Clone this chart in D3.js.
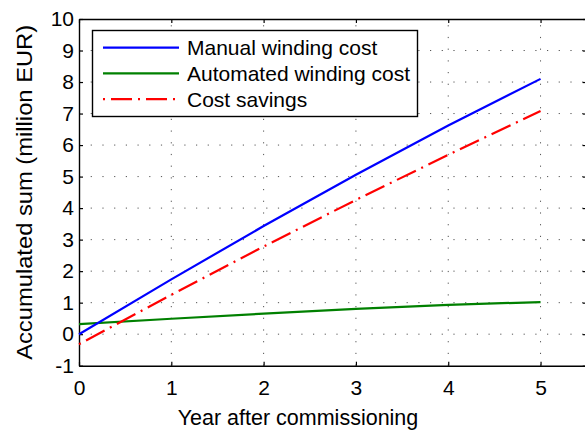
<!DOCTYPE html>
<html>
<head>
<meta charset="utf-8">
<script src="https://cdn.jsdelivr.net/npm/d3@7"></script>
<style>
  html, body { margin: 0; padding: 0; background: #fff; }
  svg { display: block; font-family: "Liberation Sans", Arial, Helvetica, sans-serif; }
</style>
</head>
<body>
<svg id="chart" width="585" height="431"></svg>
<script>
// Accumulated costs per year after commissioning (million EUR)
const years = [0, 1, 2, 3, 4, 5];
const manualCost = [0, 1.74, 3.43, 5.06, 6.62, 8.1];
const automatedCost = [0.32, 0.49, 0.65, 0.80, 0.93, 1.02];
const costSavings = [-0.32, 1.25, 2.78, 4.26, 5.69, 7.08];

const xTicks = [0, 1, 2, 3, 4, 5];
const yTicks = [-1, 0, 1, 2, 3, 4, 5, 6, 7, 8, 9, 10];
const seriesNames = ["Manual winding cost", "Automated winding cost", "Cost savings"];

const svg = d3.select("#chart");
const plotLeft = 79, plotRight = 586.7, plotTop = 19, plotBottom = 365.7;

const x = d3.scaleLinear().domain([0, 5.5]).range([plotLeft, plotRight]);
const y = d3.scaleLinear().domain([-1, 10]).range([plotBottom, plotTop]);
const plainNumber = d => String(d);

// dotted grid
const grid = svg.append("g").attr("stroke", "#555").attr("stroke-width", 1)
  .attr("stroke-dasharray", "1.2,10.5");
xTicks.filter(d => d > 0).forEach(d => {
  grid.append("line").attr("x1", x(d)).attr("x2", x(d)).attr("y1", plotBottom).attr("y2", plotTop);
});
yTicks.filter(d => d > -1 && d < 10).forEach(d => {
  grid.append("line").attr("x1", plotLeft).attr("x2", plotRight).attr("y1", y(d)).attr("y2", y(d));
});

// axes with inward ticks on all four sides
const tickLen = 4;
const axB = svg.append("g").attr("transform", `translate(0,${plotBottom})`)
  .call(d3.axisBottom(x).tickValues(xTicks).tickFormat(plainNumber)
    .tickSizeInner(-tickLen).tickSizeOuter(0).tickPadding(14));
const axT = svg.append("g").attr("transform", `translate(0,${plotTop})`)
  .call(d3.axisTop(x).tickValues(xTicks).tickSizeInner(-tickLen).tickSizeOuter(0).tickFormat(""));
const axL = svg.append("g").attr("transform", `translate(${plotLeft},0)`)
  .call(d3.axisLeft(y).tickValues(yTicks).tickFormat(plainNumber)
    .tickSizeInner(-tickLen).tickSizeOuter(0).tickPadding(5));
const axR = svg.append("g").attr("transform", `translate(${plotRight},0)`)
  .call(d3.axisRight(y).tickValues(yTicks).tickSizeInner(-tickLen).tickSizeOuter(0).tickFormat(""));

[axB, axT, axL, axR].forEach(a => {
  a.select(".domain").attr("stroke", "#000").attr("stroke-width", 1.4);
  a.selectAll(".tick line").attr("stroke", "#000").attr("stroke-width", 1.2);
  a.selectAll(".tick text").attr("fill", "#000").style("font-size", "21px")
    .style("font-family", "'Liberation Sans', Arial, sans-serif");
});

// data lines
const line = d3.line().x(d => x(d[0])).y(d => y(d[1]));
const zip = vals => years.map((yr, i) => [yr, vals[i]]);

svg.append("path").datum(zip(automatedCost)).attr("d", line)
  .attr("fill", "none").attr("stroke", "#008000").attr("stroke-width", 2.2);
svg.append("path").datum(zip(manualCost)).attr("d", line)
  .attr("fill", "none").attr("stroke", "#0000ff").attr("stroke-width", 2.2);
svg.append("path").datum(zip(costSavings)).attr("d", line)
  .attr("fill", "none").attr("stroke", "#ff0000").attr("stroke-width", 2.2)
  .attr("stroke-dasharray", "2,6,21,6");

// legend
const lg = svg.append("g");
lg.append("rect").attr("x", 92.5).attr("y", 30.5).attr("width", 325).attr("height", 86)
  .attr("fill", "#fff").attr("stroke", "#000").attr("stroke-width", 1.4);
const legendStyles = [
  { color: "#0000ff", dash: null },
  { color: "#008000", dash: null },
  { color: "#ff0000", dash: "2,6,21,6" }
];
seriesNames.forEach((name, i) => {
  const cy = 47.7 + i * 25.7;
  lg.append("line").attr("x1", 103).attr("x2", 179).attr("y1", cy).attr("y2", cy)
    .attr("stroke", legendStyles[i].color).attr("stroke-width", 2.2)
    .attr("stroke-dasharray", legendStyles[i].dash);
  lg.append("text").attr("x", 187).attr("y", cy + 7.5).text(name)
    .style("font-size", "21px").attr("fill", "#000");
});

// axis titles
svg.append("text").attr("x", 298).attr("y", 425)
  .attr("text-anchor", "middle").style("font-size", "21.5px").text("Year after commissioning");
svg.append("text").attr("transform", `translate(32,${(plotTop + plotBottom) / 2}) rotate(-90)`)
  .attr("text-anchor", "middle").style("font-size", "22px")
  .attr("textLength", 335).attr("lengthAdjust", "spacingAndGlyphs")
  .text("Accumulated sum (million EUR)");
</script>
</body>
</html>
